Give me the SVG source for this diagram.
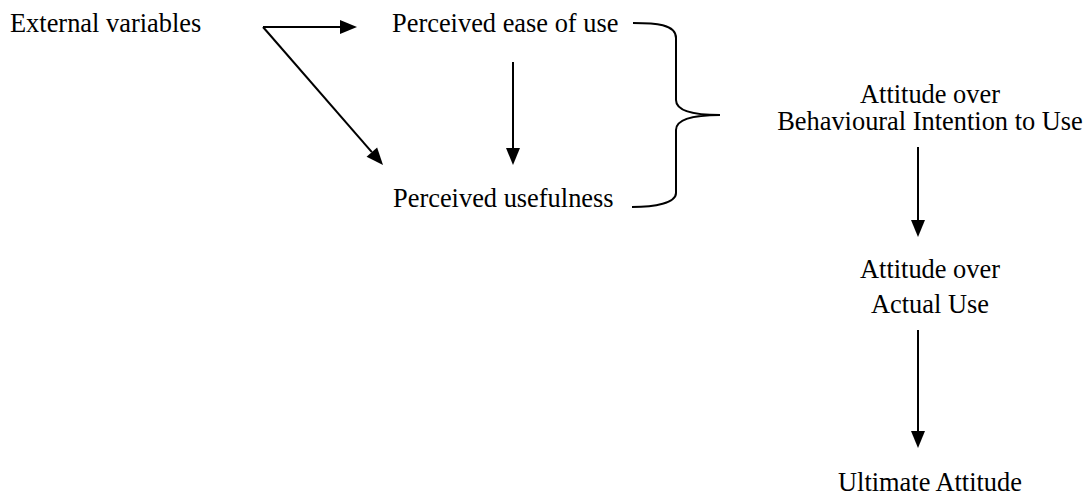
<svg xmlns="http://www.w3.org/2000/svg" width="1089" height="496" viewBox="0 0 1089 496">
<style>
text{font-family:'Liberation Serif','Times New Roman',Times,serif;font-size:26.4px;fill:#000}
.c{text-anchor:middle}
.ln{stroke:#000;stroke-width:2;fill:none}
</style>
<defs>
<marker id="ah" markerUnits="userSpaceOnUse" markerWidth="17" markerHeight="14" refX="0" refY="7" orient="auto" overflow="visible">
<path d="M0,0 L17,7 L0,14 z" fill="#000"/>
</marker>
</defs>
<rect width="1089" height="496" fill="#fff"/>
<g font-family="Liberation Serif, serif">
<g id="external"><text x="10" y="32">External variables</text></g>
<g id="ease"><text x="392" y="32">Perceived ease of use</text></g>
<g id="usefulness"><text x="393" y="207">Perceived usefulness</text></g>
<g id="intention"><text class="c" x="930" y="103">Attitude over</text><text class="c" x="930" y="130">Behavioural Intention to Use</text></g>
<g id="actual"><text class="c" x="930" y="278">Attitude over</text><text class="c" x="930" y="313">Actual Use</text></g>
<g id="ultimate"><text class="c" x="930" y="491">Ultimate Attitude</text></g>
</g>
<g id="connectors">
<line class="ln" x1="263" y1="27" x2="340" y2="27" marker-end="url(#ah)"/>
<line class="ln" x1="263" y1="27" x2="371.85" y2="152.17" marker-end="url(#ah)"/>
<line class="ln" x1="513" y1="62" x2="513" y2="148" marker-end="url(#ah)"/>
<line class="ln" x1="918" y1="147" x2="918" y2="220" marker-end="url(#ah)"/>
<line class="ln" x1="918" y1="330" x2="918" y2="431" marker-end="url(#ah)"/>
<path id="brace" class="ln" d="M633,23 C655,23 676,24 676,38 L676,100 C676,110 690,115 720,115 C690,115 676,120 676,130 L676,193 C676,203 655,207 632,207"/>
</g>
</svg>
